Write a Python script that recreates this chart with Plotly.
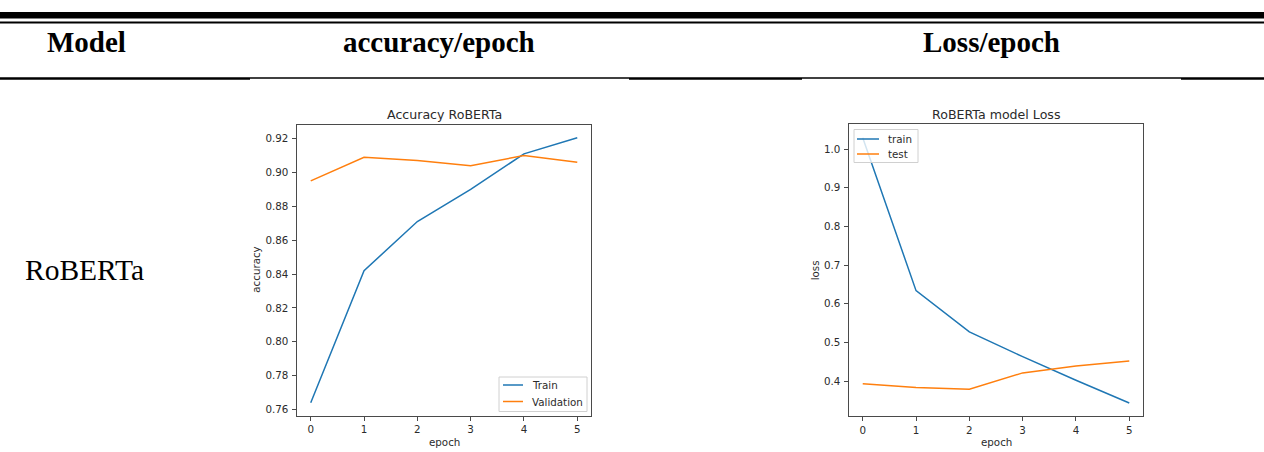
import plotly.graph_objects as go

# Training history values per epoch
epochs = [0, 1, 2, 3, 4, 5]
acc_train = [0.764, 0.842, 0.871, 0.890, 0.911, 0.9205]
acc_val = [0.895, 0.909, 0.907, 0.904, 0.910, 0.906]
loss_train = [1.030, 0.634, 0.527, 0.463, 0.402, 0.343]
loss_test = [0.393, 0.383, 0.379, 0.421, 0.439, 0.452]

# Table text
header_cells = ["Model", "accuracy/epoch", "Loss/epoch"]
model_name = "RoBERTa"

W, H = 1264, 452
BLUE = "#1f77b4"
ORANGE = "#ff7f0e"
SPINE = "#4a4a4a"
TXT = "#2b2b2b"
MPL_FONT = "DejaVu Sans"
SERIF = "Liberation Serif"


def px(x):
    return x / W


def py(y):
    return 1 - y / H


fig = go.Figure()

fig.add_trace(go.Scatter(x=epochs, y=acc_train, mode="lines", name="Train",
                         line=dict(color=BLUE, width=1.5), xaxis="x", yaxis="y",
                         showlegend=False))
fig.add_trace(go.Scatter(x=epochs, y=acc_val, mode="lines", name="Validation",
                         line=dict(color=ORANGE, width=1.5), xaxis="x", yaxis="y",
                         showlegend=False))
fig.add_trace(go.Scatter(x=epochs, y=loss_train, mode="lines", name="train",
                         line=dict(color=BLUE, width=1.5), xaxis="x2", yaxis="y2",
                         showlegend=False))
fig.add_trace(go.Scatter(x=epochs, y=loss_test, mode="lines", name="test",
                         line=dict(color=ORANGE, width=1.5), xaxis="x2", yaxis="y2",
                         showlegend=False))


def pad_range(vals, frac=0.05):
    lo, hi = min(vals), max(vals)
    d = (hi - lo) * frac
    return [lo - d, hi + d]


axis_common = dict(showline=True, linecolor=SPINE, linewidth=1, mirror=True,
                   showgrid=False, zeroline=False, ticks="outside", ticklen=4,
                   tickcolor=SPINE, tickwidth=1,
                   tickfont=dict(family=MPL_FONT, size=10.3, color=TXT))

# Plot areas (pixel boxes)
A = dict(l=297.4, r=590.6, t=124.5, b=416.0)
L = dict(l=849.4, r=1142.6, t=124.4, b=416.3)

fig.update_layout(
    width=W, height=H,
    margin=dict(l=0, r=0, t=0, b=0),
    paper_bgcolor="white", plot_bgcolor="white",
    showlegend=False,
    xaxis=dict(domain=[px(A["l"]), px(A["r"])], anchor="y",
               range=pad_range(epochs), tickmode="array", tickvals=epochs,
               ticktext=[str(e) for e in epochs], **axis_common),
    yaxis=dict(domain=[py(A["b"]), py(A["t"])], anchor="x",
               range=pad_range(acc_train + acc_val), tick0=0.76, dtick=0.02,
               tickformat=".2f", ticklabelstandoff=2, **axis_common),
    xaxis2=dict(domain=[px(L["l"]), px(L["r"])], anchor="y2",
                range=pad_range(epochs), tickmode="array", tickvals=epochs,
                ticktext=[str(e) for e in epochs], **axis_common),
    yaxis2=dict(domain=[py(L["b"]), py(L["t"])], anchor="x2",
                range=pad_range(loss_train + loss_test), tick0=0.4, dtick=0.1,
                tickformat=".1f", ticklabelstandoff=2, **axis_common),
)

shapes = []
annotations = []


def hbar(x0, x1, y0, y1):
    shapes.append(dict(type="rect", xref="paper", yref="paper",
                       x0=px(x0), x1=px(x1), y0=py(y1), y1=py(y0),
                       fillcolor="black", line=dict(width=0), layer="above"))


# Table rules
hbar(0, W, 12, 18.5)
hbar(0, W, 21.5, 23.5)
for a, b in [(0, 250), (629, 802), (1181, W)]:
    hbar(a, b, 77.3, 79.8)
for a, b in [(250, 629), (802, 1181)]:
    hbar(a, b, 77.3, 78.7)


def text(x, y, s, size, family, color="black", bold=False, xanchor="center",
         yanchor="middle", angle=0):
    annotations.append(dict(
        x=px(x), y=py(y), xref="paper", yref="paper", text=f"<b>{s}</b>" if bold else s,
        showarrow=False, xanchor=xanchor, yanchor=yanchor, textangle=angle,
        font=dict(family=family, size=size, color=color)))


# Table header and row label
text(45, 42.5, header_cells[0], 29, SERIF, bold=True, xanchor="left")
text(439, 42.5, header_cells[1], 29, SERIF, bold=True)
text(991, 42.5, header_cells[2], 29, SERIF, bold=True)
text(23, 270, model_name, 29.5, SERIF, xanchor="left")

# Chart titles and axis labels
text((A["l"] + A["r"]) / 2, 114, "Accuracy RoBERTa", 12.6, MPL_FONT, TXT)
text((L["l"] + L["r"]) / 2, 114, "RoBERTa model Loss", 12.6, MPL_FONT, TXT)
text(256.5, (A["t"] + A["b"]) / 2, "accuracy", 10.3, MPL_FONT, TXT, angle=-90)
text(815, (L["t"] + L["b"]) / 2, "loss", 10.3, MPL_FONT, TXT, angle=-90)
text((A["l"] + A["r"]) / 2, 442, "epoch", 10.3, MPL_FONT, TXT)
text((L["l"] + L["r"]) / 2, 442, "epoch", 10.3, MPL_FONT, TXT)


def legend_box(x0, x1, y0, y1, rows):
    shapes.append(dict(type="rect", xref="paper", yref="paper",
                       x0=px(x0), x1=px(x1), y0=py(y1), y1=py(y0),
                       fillcolor="rgba(255,255,255,0.8)",
                       line=dict(color="#d0d0d0", width=1), layer="above"))
    for (lx0, lx1, ly, color, label) in rows:
        shapes.append(dict(type="line", xref="paper", yref="paper",
                           x0=px(lx0), x1=px(lx1), y0=py(ly), y1=py(ly),
                           line=dict(color=color, width=1.5), layer="above"))
        text(lx1 + 7, ly, label, 10.3, MPL_FONT, TXT, xanchor="left")


legend_box(499, 587, 377, 411.5,
           [(503, 523, 385, BLUE, "Train"), (503, 523, 401.5, ORANGE, "Validation")])
legend_box(854, 918, 129.5, 162.5,
           [(857, 879, 139, BLUE, "train"), (857, 879, 154, ORANGE, "test")])

fig.update_layout(shapes=shapes, annotations=annotations)

fig.write_html("out.html")
